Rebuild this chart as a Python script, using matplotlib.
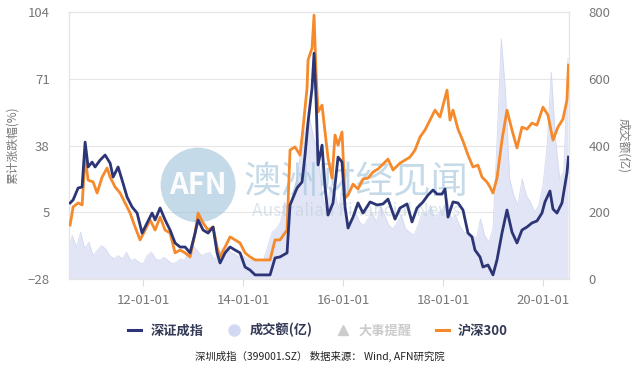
import matplotlib
matplotlib.use("Agg")
import matplotlib.pyplot as plt
from matplotlib.lines import Line2D
from matplotlib.patches import Ellipse
import numpy as np
import pandas as pd

plt.rcParams["font.family"] = ["Noto Sans CJK SC", "DejaVu Sans"]

# 深证成指 cumulative change (%), x in decimal years
szse_x = [2010.54, 2010.60, 2010.70, 2010.78, 2010.84, 2010.90, 2010.98, 2011.04, 2011.14, 2011.24,
          2011.34, 2011.40, 2011.50, 2011.58, 2011.68, 2011.78, 2011.88, 2011.98, 2012.08, 2012.18,
          2012.24, 2012.34, 2012.44, 2012.54, 2012.64, 2012.74, 2012.84, 2012.94, 2013.04, 2013.10,
          2013.20, 2013.30, 2013.40, 2013.48, 2013.54, 2013.64, 2013.74, 2013.84, 2013.94, 2014.04,
          2014.14, 2014.24, 2014.38, 2014.54, 2014.64, 2014.74, 2014.88, 2014.94, 2015.08, 2015.18,
          2015.24, 2015.30, 2015.38, 2015.42, 2015.46, 2015.50, 2015.58, 2015.64, 2015.70, 2015.80,
          2015.90, 2015.98, 2016.04, 2016.10, 2016.20, 2016.30, 2016.40, 2016.54, 2016.68, 2016.80,
          2016.90, 2017.04, 2017.14, 2017.28, 2017.38, 2017.48, 2017.60, 2017.70, 2017.80, 2017.88,
          2017.98, 2018.04, 2018.10, 2018.20, 2018.30, 2018.40, 2018.50, 2018.58, 2018.64, 2018.74,
          2018.80, 2018.90, 2019.00, 2019.08, 2019.18, 2019.28, 2019.38, 2019.48, 2019.58, 2019.68,
          2019.78, 2019.88, 2019.98, 2020.04, 2020.14, 2020.20, 2020.28, 2020.38, 2020.48, 2020.51]
szse_pct = [9.6, 11.1, 17.0, 17.5, 39.7, 27.4, 29.8, 27.4, 30.8, 33.3,
            29.3, 22.4, 27.4, 20.9, 12.5, 7.6, 4.6, -5.3, -0.3, 4.6,
            1.2, 7.1, 1.2, -3.8, -10.2, -12.2, -12.2, -15.1, -5.3, 1.2,
            -3.8, -5.3, -2.3, -15.1, -20.1, -15.1, -12.2, -13.7, -15.1, -22.1,
            -23.6, -26.0, -26.0, -26.0, -17.6, -17.1, -15.1, 8.6, 17.0, 20.0,
            33.3, 49.6, 66.4, 83.7, 61.5, 28.4, 38.2, 17.5, 3.6, 9.6,
            32.3, 29.8, 7.6, -2.8, 2.6, 9.6, 4.6, 10.1, 8.6, 9.1,
            11.5, 1.6, 7.1, 9.1, 0.2, 7.1, 10.1, 13.5, 16.0, 14.0,
            14.0, 16.5, 2.6, 10.1, 9.6, 6.1, -5.3, -7.2, -13.7, -17.1,
            -22.1, -21.1, -26.0, -18.6, -5.3, 6.1, -4.8, -10.2, -3.8, -2.3,
            -0.3, 0.7, 4.6, 10.1, 15.5, 6.6, 4.6, 9.6, 24.4, 32.3]

# 沪深300 cumulative change (%)
hs300_x = [2010.54, 2010.60, 2010.70, 2010.78, 2010.84, 2010.90, 2011.00, 2011.08, 2011.18, 2011.28,
           2011.34, 2011.44, 2011.54, 2011.64, 2011.74, 2011.84, 2011.94, 2012.04, 2012.14, 2012.24,
           2012.34, 2012.44, 2012.54, 2012.64, 2012.74, 2012.84, 2012.94, 2013.04, 2013.10, 2013.20,
           2013.30, 2013.40, 2013.48, 2013.54, 2013.64, 2013.74, 2013.84, 2013.94, 2014.04, 2014.14,
           2014.24, 2014.44, 2014.54, 2014.64, 2014.74, 2014.88, 2014.94, 2015.04, 2015.14, 2015.20,
           2015.28, 2015.30, 2015.38, 2015.42, 2015.46, 2015.50, 2015.58, 2015.64, 2015.70, 2015.78,
           2015.84, 2015.90, 2015.98, 2016.04, 2016.10, 2016.20, 2016.30, 2016.40, 2016.50, 2016.60,
           2016.70, 2016.80, 2016.90, 2017.00, 2017.14, 2017.24, 2017.34, 2017.44, 2017.54, 2017.64,
           2017.74, 2017.84, 2017.94, 2018.08, 2018.14, 2018.20, 2018.30, 2018.40, 2018.50, 2018.60,
           2018.70, 2018.78, 2018.88, 2018.94, 2019.00, 2019.08, 2019.18, 2019.28, 2019.38, 2019.48,
           2019.58, 2019.68, 2019.78, 2019.88, 2020.00, 2020.10, 2020.20, 2020.30, 2020.40, 2020.48,
           2020.51]
hs300_pct = [-1.3, 7.6, 9.6, 8.6, 32.3, 20.9, 20.0, 14.5, 22.4, 26.9,
             22.4, 17.5, 14.5, 9.6, 4.6, -2.3, -8.7, -3.8, 1.2, -3.8,
             2.6, -3.8, -5.3, -15.1, -13.7, -15.1, -17.1, -5.3, 4.6, -0.3,
             -3.8, -2.3, -12.2, -17.1, -12.2, -7.2, -8.7, -10.2, -15.1, -17.1,
             -18.6, -18.6, -18.6, -8.7, -8.7, -3.8, 35.8, 37.3, 33.3, 46.6,
             66.4, 80.3, 86.2, 102.5, 74.3, 54.6, 58.0, 44.7, 31.8, 21.9,
             43.2, 38.2, 44.7, 12.0, 13.5, 18.9, 16.5, 21.4, 21.9, 24.9,
             26.4, 28.8, 31.3, 25.9, 29.3, 30.8, 32.3, 35.8, 42.2, 45.7,
             50.6, 55.5, 52.1, 65.4, 50.6, 55.5, 46.1, 40.2, 33.3, 27.4,
             28.3, 22.4, 19.9, 17.5, 14.5, 21.9, 40.7, 55.5, 45.7, 36.8,
             47.1, 46.1, 49.1, 48.1, 57.0, 53.1, 40.7, 47.1, 51.1, 60.5,
             77.8]

# 成交额(亿), monthly from 2010-07 to 2020-07
volume_months = pd.date_range("2010-07-01", "2020-07-01", freq="MS")
volume = [80, 130, 95, 140, 90, 110, 70, 85, 100, 90, 70, 60,
          70, 60, 80, 55, 60, 50, 45, 70, 80, 60, 55, 65,
          55, 45, 50, 60, 55, 90, 100, 85, 70, 75, 80, 60,
          70, 90, 100, 80, 75, 65, 70, 60, 55, 60, 55, 60,
          100, 140, 150, 170, 230, 200, 260, 300, 400, 450, 480, 420,
          380, 250, 200, 280, 260, 210, 300, 160, 180, 200, 170, 160,
          180, 200, 170, 220, 190, 160, 150, 170, 190, 150, 140, 130,
          160, 200, 190, 220, 180, 200, 210, 240, 180, 190, 160, 140,
          140, 130, 120, 180, 130, 110, 150, 420, 720, 560, 300, 250,
          220, 300, 250, 230, 200, 220, 280, 400, 620, 420, 300, 320,
          660]

left_ticks = [-28, 5, 38, 71, 104]
right_ticks = [0, 200, 400, 600, 800]
x_tick_years = [2012, 2014, 2016, 2018, 2020]
x_tick_labels = ["12-01-01", "14-01-01", "16-01-01", "18-01-01", "20-01-01"]

BLUE = "#2c3575"
ORANGE = "#f58a2c"
VOL = "#dfe3f5"
TICK_GREY = "#777777"

fig = plt.figure(figsize=(6.4, 3.68), dpi=100)
ax = fig.add_axes([0.108, 0.242, 0.781, 0.725])
ax2 = ax.twinx()

vol_x = volume_months.year + (volume_months.month - 1) / 12.0
ax2.fill_between(vol_x, 0, volume, color=VOL, alpha=0.9, linewidth=0, zorder=1)
ax2.plot(vol_x, volume, color="#d3d9f0", linewidth=0.6, zorder=2)
ax2.set_ylim(0, 800)
ax2.set_yticks(right_ticks)

ax.set_zorder(ax2.get_zorder() + 1)
ax.patch.set_visible(False)

ax.plot(hs300_x, hs300_pct, color=ORANGE, linewidth=2.0, zorder=4)
ax.plot(szse_x, szse_pct, color=BLUE, linewidth=2.0, zorder=5)

ax.set_xlim(2010.52, 2020.52)
ax.set_ylim(-28, 104)
ax.set_yticks(left_ticks)
ax.set_xticks(x_tick_years)
ax.set_xticklabels(x_tick_labels)

for a in (ax, ax2):
    for side in a.spines.values():
        side.set_color("#e3e3e3")
        side.set_linewidth(0.8)
    a.tick_params(colors=TICK_GREY, labelsize=9.5, length=0, pad=8)
ax.tick_params(axis="x", length=5, color="#dddddd", pad=6)
ax2.tick_params(axis="y", pad=14)
ax.tick_params(axis="y", pad=14)

ax.set_axisbelow(True)
for v in left_ticks[1:-1]:
    ax2.axhline((v + 28) / 132 * 800, color="#e6e6e6", linewidth=0.8, zorder=0)

ax.set_ylabel("累计涨跌幅(%)", color=TICK_GREY, fontsize=8.5, labelpad=6)
ax2.set_ylabel("成交额(亿)", color=TICK_GREY, fontsize=8.5, rotation=270, labelpad=14)

# watermark (round logo: axes are 500 x 267 px)
logo = Ellipse((0.258, 0.352), 0.15, 0.28, transform=ax.transAxes, facecolor="#9fc2da",
               alpha=0.6, edgecolor="none", zorder=3)
ax.add_patch(logo)
ax.text(0.258, 0.352, "AFN", transform=ax.transAxes, color="white", fontsize=21,
        fontweight="bold", ha="center", va="center", alpha=0.95, zorder=3)
ax.text(0.574, 0.36, "澳洲财经见闻", transform=ax.transAxes, color="#9fc2da", fontsize=27,
        ha="center", va="center", alpha=0.6, zorder=3)
ax.text(0.574, 0.255, "Australian Financial News", transform=ax.transAxes, color="#b8cbd8",
        fontsize=12.5, ha="center", va="center", alpha=0.5, zorder=3)

handles = [
    Line2D([], [], color=BLUE, linewidth=2.2),
    Line2D([], [], linestyle="none", marker="o", markersize=8, color="#d3d9f2"),
    Line2D([], [], linestyle="none", marker="^", markersize=7, color="#cccccc"),
    Line2D([], [], color=ORANGE, linewidth=2.2),
]
labels = ["深证成指", "成交额(亿)", "大事提醒", "沪深300"]
leg = fig.legend(handles, labels, loc="center", bbox_to_anchor=(0.497, 0.103), ncol=4,
                 frameon=False, handlelength=1.0, columnspacing=1.8, handletextpad=0.7,
                 prop={"size": 9.5, "weight": "bold"})
for txt, col in zip(leg.get_texts(), ["#333a55", "#333a55", "#cccccc", "#333a55"]):
    txt.set_color(col)

fig.text(0.5, 0.03, "深圳成指（399001.SZ） 数据来源： Wind, AFN研究院", ha="center",
         va="center", fontsize=7.5, color="#222222")

fig.savefig("out.png", dpi=100)
